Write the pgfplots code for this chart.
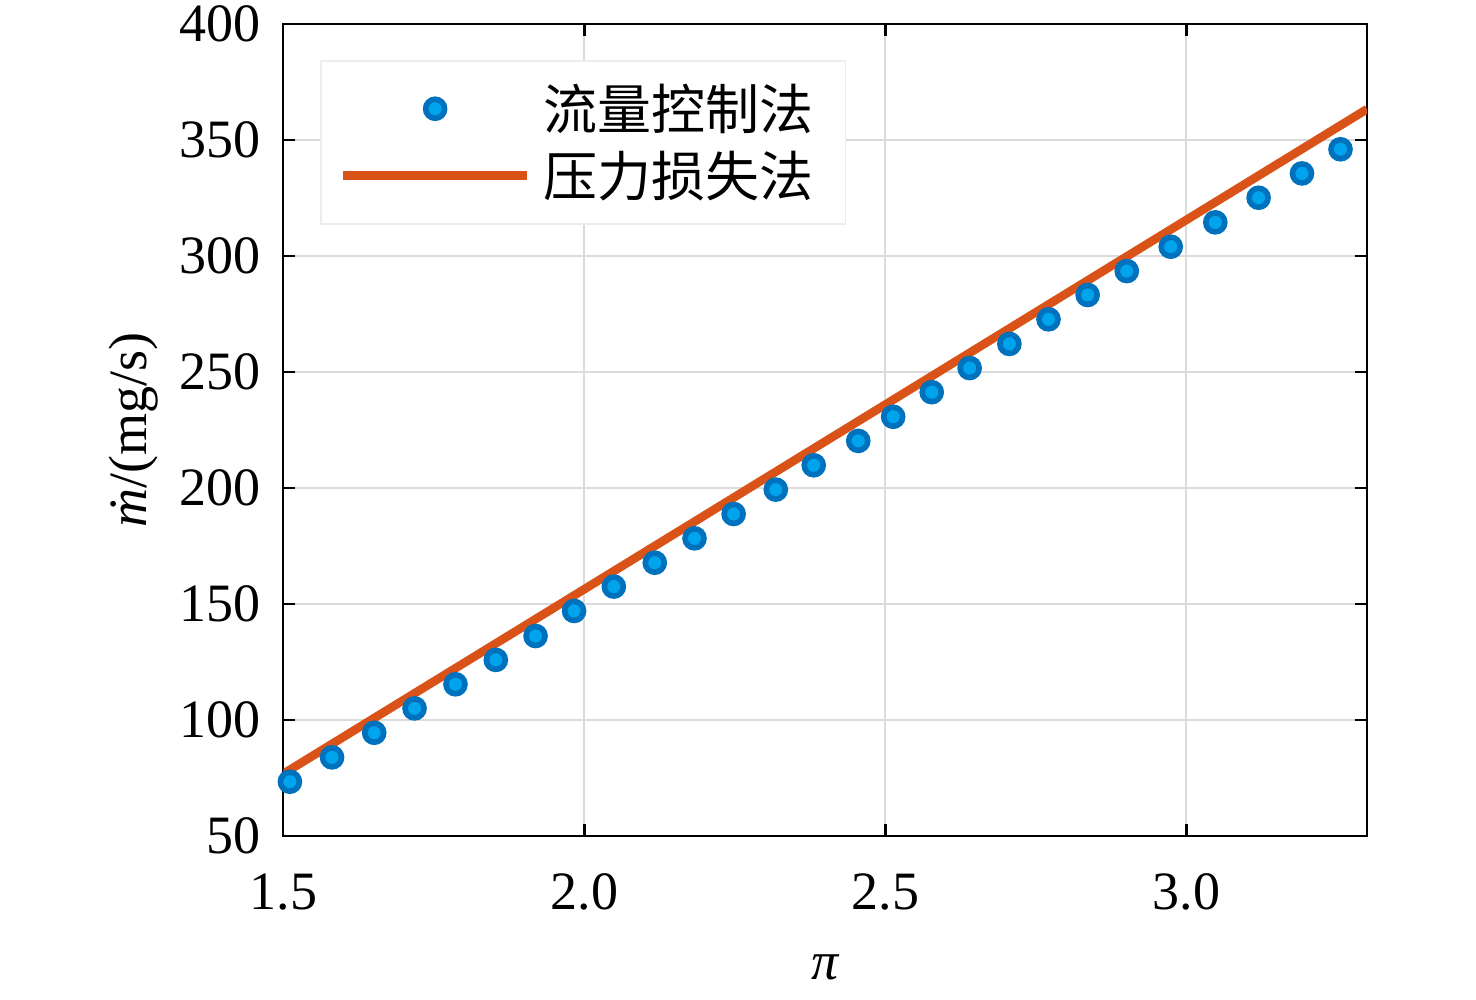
\documentclass[border=0pt]{standalone}
\usepackage{fontspec}
\setmainfont{Liberation Serif}
\newfontfamily\cjk{Noto Sans CJK SC}
\usepackage{pgfplots}
\pgfplotsset{compat=1.18}
\definecolor{mblue}{RGB}{0,114,189}
\definecolor{mfill}{RGB}{0,164,236}
\definecolor{morange}{RGB}{217,83,25}
\newcommand\ls{\rule[-4pt]{0pt}{26pt}}
\newcommand\rs{\rule{7pt}{0pt}}
\begin{document}
\begin{tikzpicture}
\useasboundingbox (-141.65pt,-82pt) rectangle (596.35pt,418pt);
\begin{axis}[
  scale only axis, width=541.85pt, height=406pt,
  xmin=1.5, xmax=3.3, ymin=50, ymax=400,
  xtick={1.5,2.0,2.5,3.0}, ytick={50,100,150,200,250,300,350,400},
  /pgf/number format/assume math mode=true,
  x tick label style={/pgf/number format/.cd,fixed,fixed zerofill,precision=1,/tikz/.cd},
  tick label style={font=\fontsize{27}{30}\selectfont, inner sep=0pt},
  xticklabel style={anchor=north, yshift=-18.5pt},
  yticklabel style={anchor=east, xshift=-11pt},
  tick align=inside, major tick length=6pt,
  tick style={black, line width=1.2pt},
  axis line style={black, line width=1.2pt},
  grid=major, major grid style={black!14, line width=1.1pt},
  xlabel={\textit{π}},
  xlabel style={at={(axis description cs:0.5,-0.1773)}, anchor=base, font=\fontsize{27}{30}\selectfont, inner sep=0pt},
  ylabel={\textit{ṁ}/(mg/s)},
  ylabel style={at={(axis description cs:-0.1264,0.5)}, anchor=base, font=\fontsize{27}{30}\selectfont, inner sep=0pt},
  legend image code/.code={\path[draw=none,fill=none] (0pt,-13pt) rectangle (92pt,13pt); \draw[mark repeat=2,mark phase=2,#1] plot coordinates {(0pt,0pt)(46pt,0pt)(92pt,0pt)};},
  legend cell align=left,
  legend style={at={(axis description cs:0.0339,0.9557)}, anchor=north west, fill=white, draw=white!93!black, line width=0.8pt,
    inner xsep=9pt, inner ysep=11pt, row sep=7.5pt, column sep=6pt,
    font=\cjk\fontsize{27}{30}\selectfont, nodes={inner sep=0pt}, cells={anchor=west}},
]
\addplot[only marks, mark=*, mark size=4.75pt, mark options={draw=mblue, fill=mfill, line width=2.8pt}] coordinates {
(1.511,73.4) (1.581,83.9) (1.651,94.5) (1.718,105.0) (1.786,115.4) (1.853,125.9) (1.919,136.2) (1.983,147.0)
(2.049,157.5) (2.117,167.8) (2.183,178.3) (2.248,188.8) (2.318,199.3) (2.381,209.8) (2.455,220.3) (2.513,230.7)
(2.577,241.3) (2.640,251.7) (2.706,262.1) (2.771,272.7) (2.836,283.2) (2.901,293.5) (2.974,304.0) (3.048,314.5)
(3.120,325.1) (3.192,335.6) (3.256,346.0)
};
\addlegendentry{\ls 流量控制法\rs}
\addplot[morange, line width=4.3pt] coordinates {(1.5,76.8) (3.3,363.3)};
\addlegendentry{\ls 压力损失法\rs}
\end{axis}
\end{tikzpicture}
\end{document}
